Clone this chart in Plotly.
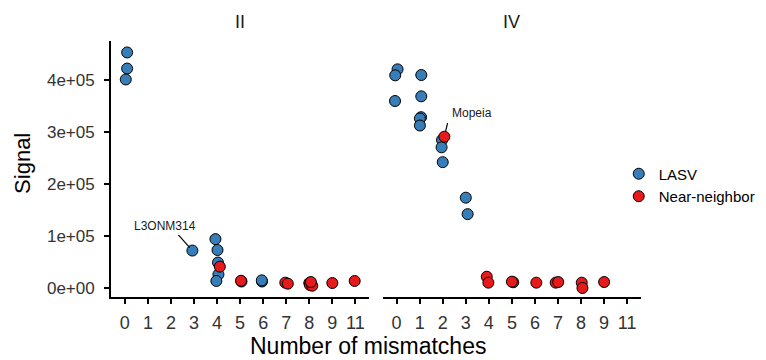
import plotly.graph_objects as go

# ---- data ----
categories = ["0", "1", "2", "3", "4", "5", "6", "7", "8", "9", "11"]

# Panel II
II_LASV_mm = [0, 0, 0, 3, 4, 4, 4, 4, 4, 5, 6, 6]
II_LASV_sig = [453000, 422000, 401000, 72000, 94000, 73000, 49000, 26000, 13500, 12500, 12500, 14700]
II_LASV_jit = [0.10, 0.10, 0.04, -0.07, -0.07, 0.02, 0.04, 0.06, -0.03, 0.06, -0.05, -0.06]

II_NN_mm = [4, 5, 7, 7, 8, 8, 8, 8, 9, 11]
II_NN_sig = [41000, 14000, 10300, 8300, 9500, 5800, 4400, 11500, 9600, 13500]
II_NN_jit = [0.12, 0.04, -0.04, 0.07, 0.00, 0.03, 0.13, 0.07, 0.00, -0.03]

# Panel IV
IV_LASV_mm = [0, 0, 0, 1, 1, 1, 1, 1, 2, 2, 2, 3, 3]
IV_LASV_sig = [420500, 409000, 359600, 409600, 368600, 328500, 326000, 312500, 284600, 270500, 242000, 173700, 142000]
IV_LASV_jit = [0.04, -0.06, -0.07, 0.07, 0.07, 0.06, 0.01, 0.01, -0.03, -0.05, 0.00, 0.00, 0.08]

IV_NN_mm = [2, 4, 4, 5, 5, 6, 7, 7, 8, 8, 9]
IV_NN_sig = [291000, 21700, 10300, 11000, 12200, 10300, 10300, 11500, 10300, 0, 11500]
IV_NN_jit = [0.07, -0.09, -0.02, 0.06, 0.00, 0.06, -0.10, 0.01, 0.03, 0.06, 0.00]

y_tickvals = [0, 100000, 200000, 300000, 400000]
y_ticktext = ["0e+00", "1e+05", "2e+05", "3e+05", "4e+05"]

BLUE = "#377EB8"
RED = "#E41A1C"
FONT = "Liberation Sans, Arial, sans-serif"


def xpos(mm, jit):
    return [categories.index(str(m)) + j for m, j in zip(mm, jit)]


def mk(color):
    return dict(color=color, size=11, line=dict(color="black", width=1))


fig = go.Figure()
fig.add_trace(go.Scatter(x=xpos(II_LASV_mm, II_LASV_jit), y=II_LASV_sig, mode="markers",
                         marker=mk(BLUE), name="LASV", legendgroup="LASV",
                         xaxis="x", yaxis="y"))
fig.add_trace(go.Scatter(x=xpos(II_NN_mm, II_NN_jit), y=II_NN_sig, mode="markers",
                         marker=mk(RED), name="Near-neighbor", legendgroup="NN",
                         xaxis="x", yaxis="y"))
fig.add_trace(go.Scatter(x=xpos(IV_LASV_mm, IV_LASV_jit), y=IV_LASV_sig, mode="markers",
                         marker=mk(BLUE), name="LASV", legendgroup="LASV", showlegend=False,
                         xaxis="x2", yaxis="y2"))
fig.add_trace(go.Scatter(x=xpos(IV_NN_mm, IV_NN_jit), y=IV_NN_sig, mode="markers",
                         marker=mk(RED), name="Near-neighbor", legendgroup="NN", showlegend=False,
                         xaxis="x2", yaxis="y2"))

xr = [-0.6, 10.6]
yr = [-17300, 475000]
common_x = dict(range=xr, tickmode="array", tickvals=list(range(len(categories))),
                ticktext=categories, showline=True, linecolor="black", linewidth=1.8,
                ticks="outside", ticklen=5, tickwidth=1.5, tickcolor="black",
                showgrid=False, zeroline=False, ticklabelstandoff=3,
                tickfont=dict(size=18, color="#333333", family=FONT), fixedrange=True)

fig.update_layout(
    width=766, height=360,
    margin=dict(l=103, r=133, t=33, b=71, autoexpand=False),
    paper_bgcolor="white", plot_bgcolor="white",
    font=dict(family=FONT),
    xaxis=dict(domain=[0, 0.4872], **common_x),
    xaxis2=dict(domain=[0.5128, 1], **common_x),
    yaxis=dict(range=yr, tickmode="array", tickvals=y_tickvals, ticktext=y_ticktext,
               showline=True, linecolor="black", linewidth=1.8, ticks="outside", ticklen=5,
               tickwidth=1.5, tickcolor="black", showgrid=False, zeroline=False,
               ticklabelstandoff=6, tickfont=dict(size=17, color="#333333", family=FONT)),
    yaxis2=dict(range=yr, anchor="x2", matches="y", showline=False, showticklabels=False,
                ticks="", showgrid=False, zeroline=False),
    legend=dict(x=0.958, xanchor="left", y=0.545, yanchor="top",
                font=dict(size=15, color="black", family=FONT), tracegroupgap=0,
                itemwidth=30, bgcolor="rgba(0,0,0,0)"),
    showlegend=True,
)

ann = []
# facet titles
ann.append(dict(text="II", x=0.2436, xref="paper", y=1.073, yref="paper", showarrow=False,
                xanchor="center", yanchor="middle", font=dict(size=18, color="#1A1A1A")))
ann.append(dict(text="IV", x=0.7565, xref="paper", y=1.073, yref="paper", showarrow=False,
                xanchor="center", yanchor="middle", font=dict(size=18, color="#1A1A1A")))
# axis titles
ann.append(dict(text="Number of mismatches", x=0.485, xref="paper", y=-0.19, yref="paper",
                xanchor="center", yanchor="middle", showarrow=False,
                font=dict(size=23, color="black")))
ann.append(dict(text="Signal", x=-0.166, xref="paper", y=0.52, yref="paper", textangle=-90,
                xanchor="center", yanchor="middle", showarrow=False,
                font=dict(size=22, color="black")))

# point labels
l3_x = categories.index("3") - 0.07
l3_y = 72000
ann.append(dict(text=" ", x=l3_x, y=l3_y, xref="x", yref="y", showarrow=True, arrowhead=0,
                arrowwidth=1.2, arrowcolor="black", ax=-16, ay=-18, standoff=4, borderpad=0))
ann.append(dict(text="L3ONM314", x=l3_x, y=l3_y, xref="x", yref="y", showarrow=False,
                xanchor="center", yanchor="middle",
                xshift=-27, yshift=25, font=dict(size=12, color="#1A1A1A")))
mo_x = categories.index("2") + 0.07
mo_y = 291000
ann.append(dict(text=" ", x=mo_x, y=mo_y, xref="x2", yref="y2", showarrow=True, arrowhead=0,
                arrowwidth=1.2, arrowcolor="black", ax=5, ay=-21, standoff=5, borderpad=0))
ann.append(dict(text="Mopeia", x=mo_x, y=mo_y, xref="x2", yref="y2", showarrow=False,
                xanchor="left", yanchor="middle", xshift=6, yshift=24,
                font=dict(size=12, color="#1A1A1A")))

fig.update_layout(annotations=ann)
fig.write_html("out.html")
